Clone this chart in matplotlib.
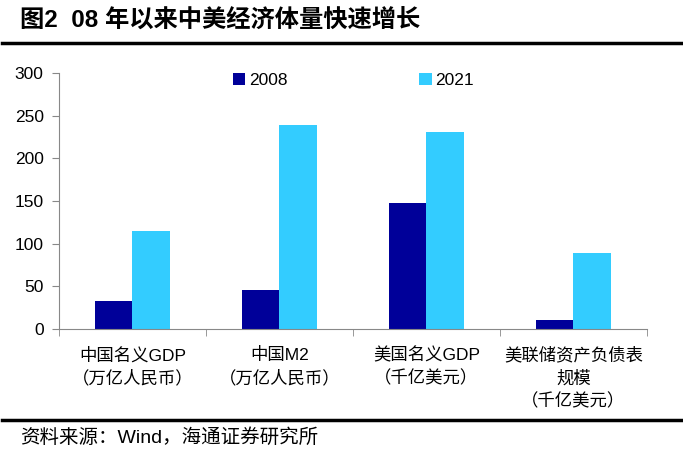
import matplotlib
matplotlib.use('Agg')
import matplotlib.pyplot as plt
import numpy as np

plt.rcParams['font.family'] = ['Liberation Sans', 'Noto Sans CJK SC']

categories = ['中国名义GDP\n（万亿人民币）', '中国M2\n（万亿人民币）',
              '美国名义GDP\n（千亿美元）', '美联储资产负债表\n规模\n（千亿美元）']
v2008 = [33, 46, 148, 10]
v2021 = [115, 239, 231, 89]
yticks = [0, 50, 100, 150, 200, 250, 300]

fig = plt.figure(figsize=(6.83, 4.55), dpi=100)
ax = fig.add_axes([0.0864, 0.277, 0.8606, 0.5626])

x = np.arange(len(categories))
w = 0.255
ax.bar(x - w / 2, v2008, width=w, color='#000099', label='2008')
ax.bar(x + w / 2, v2021, width=w, color='#33CCFF', label='2021')

ax.set_xlim(-0.5, 3.5)
ax.set_ylim(0, 300)
ax.set_yticks(yticks)
ax.tick_params(axis='y', labelsize=12.5, length=5, color='#888888', pad=6)
ax.set_xticks(x)
ax.set_xticklabels(categories, fontsize=12.5, linespacing=1.47)
ax.tick_params(axis='x', length=0, pad=13)
ax.set_xticks(np.arange(-0.5, 4, 1), minor=True)
ax.tick_params(axis='x', which='minor', length=5, color='#888888')

for s in ['top', 'right']:
    ax.spines[s].set_visible(False)
for s in ['left', 'bottom']:
    ax.spines[s].set_color('#888888')

ax.legend(ncol=2, loc='upper left', bbox_to_anchor=(0.27, 1.06), frameon=False,
          fontsize=12.5, handlelength=0.7, handleheight=0.7, handletextpad=0.2,
          columnspacing=7.6)

fig.text(0.029, 0.953, '图2  08 年以来中美经济体量快速增长', fontsize=17.5,
         fontweight='bold', va='center', ha='left')
fig.add_artist(plt.Line2D([0.003, 1.0], [0.905, 0.905], color='black', lw=2.5))
fig.add_artist(plt.Line2D([0.003, 1.0], [0.077, 0.077], color='black', lw=2.5))
fig.text(0.029, 0.039, '资料来源：Wind，海通证券研究所', fontsize=14,
         va='center', ha='left')

fig.savefig('out.png', dpi=100)
